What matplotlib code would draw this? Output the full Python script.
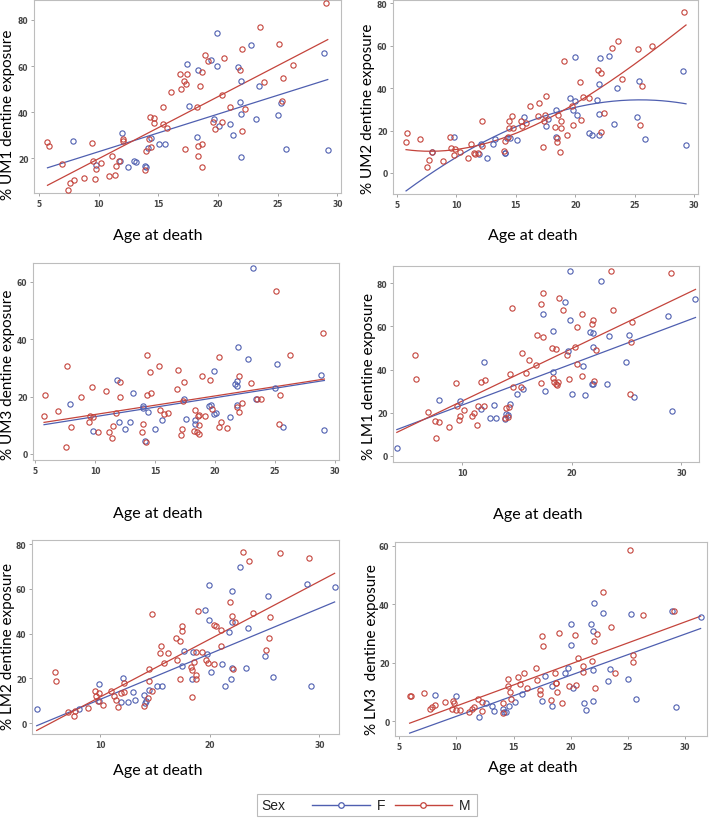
import numpy as np
import matplotlib
matplotlib.use("Agg")
from matplotlib import pyplot as plt
from matplotlib.lines import Line2D
from matplotlib.patches import Rectangle

# ---- data (age at death, % dentine exposure) ----
um1_f_age = [7.87, 9.77, 11.98, 11.81, 12.48, 12.95, 13.12, 13.93, 13.96, 14.12,
             14.37, 15.04, 15.57, 17.39, 17.56, 18.25, 18.36, 19.43, 19.68, 19.90,
             19.93, 20.10, 21.04, 21.27, 21.69, 21.88, 21.91, 21.91, 21.96, 22.75,
             23.19, 23.41, 25.01, 25.26, 25.70, 28.88, 29.19]
um1_f_val = [27.4, 17.3, 31.1, 18.8, 16.4, 18.8, 18.3, 16.7, 16.4, 24.5,
             28.8, 26.3, 26.1, 60.8, 42.5, 29.4, 58.1, 62.4, 37.2, 74.5,
             60.0, 34.1, 34.7, 30.0, 59.5, 44.4, 53.5, 20.4, 39.2, 69.1,
             37.2, 51.3, 38.9, 44.1, 24.2, 65.6, 23.8]
um1_m_age = [5.73, 5.84, 6.93, 7.48, 7.62, 7.93, 8.82, 9.44, 9.52, 9.69,
             9.80, 10.19, 10.86, 11.17, 11.36, 11.47, 11.72, 12.06, 12.09, 13.90,
             13.98, 14.24, 14.37, 14.35, 14.63, 14.63, 15.38, 15.44, 15.74, 16.08,
             16.80, 16.89, 17.19, 17.22, 17.36, 17.39, 18.23, 18.34, 18.36, 18.53,
             18.67, 18.64, 18.70, 18.92, 19.20, 19.62, 19.76, 20.32, 20.35, 20.54,
             21.02, 21.82, 22.02, 22.02, 22.24, 23.50, 23.86, 25.14, 25.40, 25.48,
             26.29, 29.05]
um1_m_val = [27.2, 25.5, 17.5, 6.4, 9.2, 10.8, 11.5, 26.5, 18.8, 11.1,
             15.4, 17.8, 12.4, 21.0, 12.9, 16.8, 18.8, 28.2, 27.5, 15.0,
             23.0, 28.2, 24.9, 37.9, 37.3, 35.4, 34.7, 42.4, 33.1, 48.7,
             56.7, 49.9, 53.3, 23.9, 52.3, 56.7, 42.1, 25.2, 21.2, 51.4,
             57.4, 16.4, 26.1, 64.7, 62.3, 35.6, 32.7, 47.3, 35.9, 63.4,
             42.2, 58.2, 67.5, 31.7, 41.6, 77.1, 53.2, 69.4, 44.8, 54.8,
             60.4, 87.1]

um2_f_age = [7.97, 9.82, 11.92, 12.09, 12.57, 13.04, 13.21, 14.05, 14.08, 14.25,
             14.47, 15.12, 15.68, 17.50, 17.70, 18.42, 18.40, 19.55, 19.80, 20.02,
             20.02, 20.19, 21.20, 21.40, 21.82, 22.01, 22.01, 22.01, 22.07, 22.85,
             23.30, 23.55, 25.18, 25.38, 25.88, 29.07, 29.33]
um2_f_val = [10.0, 16.9, 8.8, 13.8, 7.2, 13.8, 16.0, 9.3, 9.3, 16.6,
             16.5, 15.5, 26.2, 22.0, 25.6, 29.6, 17.1, 35.1, 29.5, 54.6,
             33.9, 27.3, 18.8, 18.0, 34.4, 42.0, 27.8, 17.9, 54.1, 55.2,
             23.2, 40.0, 26.4, 43.5, 16.2, 48.2, 13.0]
um2_m_age = [5.76, 5.87, 6.96, 7.55, 7.69, 7.97, 8.87, 9.48, 9.57, 9.76,
             9.88, 10.27, 10.94, 11.22, 11.45, 11.56, 11.81, 12.12, 12.15, 13.97,
             14.05, 14.33, 14.39, 14.42, 14.73, 14.70, 15.43, 15.54, 15.87, 16.18,
             16.88, 16.99, 17.33, 17.36, 17.47, 17.53, 18.34, 18.45, 18.48, 18.59,
             18.76, 18.79, 18.79, 19.04, 19.27, 19.71, 19.85, 20.44, 20.47, 20.64,
             21.14, 21.96, 22.15, 22.15, 22.40, 23.11, 23.61, 23.97, 25.29, 25.49,
             25.63, 26.44, 29.19]
um2_m_val = [14.4, 18.8, 15.8, 3.0, 6.3, 9.7, 5.5, 16.9, 11.6, 8.6,
             11.5, 9.9, 7.2, 13.8, 9.6, 9.1, 9.6, 24.3, 12.7, 10.2,
             15.1, 17.1, 21.2, 24.5, 21.2, 27.0, 24.6, 22.3, 23.5, 31.7,
             26.8, 32.9, 12.4, 24.3, 27.5, 36.2, 21.5, 16.6, 14.7, 27.5,
             10.0, 21.2, 24.6, 52.7, 18.0, 31.5, 22.6, 43.1, 25.1, 35.8,
             35.1, 48.5, 47.1, 19.3, 28.1, 58.8, 62.4, 44.5, 58.4, 22.4,
             40.9, 59.6, 75.8]

um3_f_age = [7.89, 9.83, 11.83, 12.0, 12.5, 12.94, 13.14, 13.97, 14.0, 14.14,
             14.42, 15.03, 15.58, 17.39, 17.58, 18.31, 18.36, 19.47, 19.67, 19.92,
             19.89, 20.08, 21.25, 21.67, 21.86, 21.86, 21.86, 21.92, 22.72, 23.19,
             23.39, 24.97, 25.19, 25.67, 28.83, 29.11]
um3_f_val = [17.5, 8.0, 25.8, 11.0, 8.6, 11.0, 21.1, 16.6, 16.1, 4.6,
             14.5, 8.6, 12.0, 19.0, 12.2, 11.7, 10.3, 16.7, 17.1, 29.0,
             13.8, 14.4, 12.9, 24.4, 25.4, 23.6, 17.0, 37.4, 32.9, 64.6,
             19.3, 23.1, 31.2, 9.4, 27.6, 8.2]
um3_m_age = [5.75, 5.86, 6.94, 7.56, 7.69, 7.97, 8.86, 9.47, 9.58, 9.72,
             9.83, 10.22, 10.92, 11.17, 11.5, 11.42, 11.78, 12.06, 12.08, 13.94,
             14.0, 14.22, 14.33, 14.33, 14.61, 14.64, 15.36, 15.44, 15.75, 16.11,
             16.81, 16.92, 17.22, 17.19, 17.36, 17.39, 18.36, 18.28, 18.47, 18.56,
             18.67, 18.67, 18.67, 18.89, 19.17, 19.56, 19.75, 20.31, 20.31, 20.47,
             21.0, 21.81, 21.97, 21.97, 22.22, 23.0, 23.5, 23.81, 25.08, 25.33,
             25.44, 26.25, 28.97]
um3_m_val = [13.3, 20.6, 14.8, 2.3, 30.6, 9.4, 19.8, 11.0, 13.3, 23.2,
             13.0, 7.5, 22.0, 7.8, 9.8, 5.7, 14.1, 24.9, 19.9, 7.8,
             10.3, 4.3, 20.4, 34.3, 28.5, 21.4, 30.6, 15.3, 13.9, 14.1,
             22.6, 29.4, 8.7, 6.7, 18.3, 25.1, 15.4, 8.0, 7.5, 13.2,
             13.7, 10.1, 7.1, 27.2, 13.2, 25.7, 15.6, 33.9, 9.5, 11.1,
             8.9, 16.3, 27.3, 14.7, 17.8, 24.8, 19.1, 19.1, 56.6, 10.3,
             20.4, 34.4, 42.2]

lm1_f_age = [4.05, 7.93, 9.82, 11.74, 11.98, 12.5, 12.93, 13.08, 13.93, 13.99,
             14.18, 14.36, 15.03, 15.58, 17.38, 17.59, 18.29, 18.26, 19.42, 19.63,
             19.88, 19.85, 20.06, 21.01, 21.22, 21.68, 21.89, 21.86, 21.92, 21.92,
             22.68, 23.20, 23.41, 24.94, 25.18, 25.67, 28.81, 29.15, 31.28]
lm1_f_val = [3.8, 25.8, 25.5, 21.7, 43.5, 17.4, 23.4, 17.4, 16.9, 19.2,
             18.8, 24.0, 28.5, 30.8, 65.8, 30.2, 57.7, 38.9, 71.4, 48.6,
             85.8, 62.9, 28.6, 41.7, 28.3, 57.5, 50.5, 33.1, 56.9, 33.1,
             80.9, 33.4, 55.7, 43.5, 56.0, 27.1, 64.9, 20.8, 72.8]
lm1_m_age = [5.73, 5.82, 6.92, 7.5, 7.59, 7.93, 8.81, 9.45, 9.51, 9.70,
             9.82, 10.15, 10.88, 11.13, 11.34, 11.49, 11.74, 12.04, 12.10, 13.87,
             13.96, 14.21, 14.30, 14.36, 14.57, 14.60, 15.34, 15.43, 15.79, 16.07,
             16.77, 16.86, 17.16, 17.16, 17.35, 17.38, 18.20, 18.29, 18.41, 18.60,
             18.60, 18.66, 18.72, 18.87, 19.18, 19.57, 19.73, 20.30, 20.46, 20.49,
             20.95, 20.95, 21.83, 21.95, 22.01, 22.23, 23.54, 23.78, 25.34, 25.37,
             25.46, 29.05]
lm1_m_val = [46.6, 35.4, 20.3, 16.3, 8.2, 15.7, 13.2, 33.8, 22.9, 16.8,
             18.6, 21.1, 18.6, 19.8, 14.5, 22.9, 34.0, 23.2, 35.1, 17.5,
             22.0, 18.0, 22.6, 37.8, 68.3, 31.8, 31.7, 47.7, 38.2, 44.6,
             42.3, 55.8, 33.7, 70.3, 55.2, 75.5, 50.0, 36.2, 34.2, 49.4,
             33.4, 32.9, 34.2, 73.1, 67.5, 46.5, 35.5, 50.6, 42.5, 59.8,
             65.8, 37.1, 61.2, 62.9, 34.9, 48.8, 85.4, 67.5, 28.5, 52.6,
             62.2, 84.8]

lm2_f_age = [4.22, 8.05, 9.91, 9.88, 11.88, 12.13, 12.58, 13.04, 13.19, 14.04,
             14.10, 14.23, 14.50, 15.17, 15.68, 17.48, 17.69, 18.39, 18.45, 19.57,
             19.76, 19.94, 19.94, 20.15, 21.12, 21.40, 21.76, 21.95, 22.01, 22.01,
             22.01, 22.80, 23.28, 23.50, 25.05, 25.29, 25.74, 28.91, 29.21, 31.40]
lm2_f_val = [6.1, 6.3, 17.3, 9.8, 9.4, 20.0, 9.2, 14.0, 10.4, 12.7,
             9.1, 10.0, 14.8, 16.7, 16.7, 25.6, 32.3, 19.8, 31.7, 50.5,
             30.8, 61.5, 46.1, 22.8, 26.2, 16.7, 40.8, 19.5, 59.2, 45.2,
             24.6, 69.7, 24.6, 42.3, 30.1, 56.9, 20.4, 62.3, 16.5, 61.0]
lm2_m_age = [5.87, 5.99, 7.05, 7.63, 7.75, 8.94, 9.54, 9.64, 9.79, 9.91,
             10.27, 11.0, 11.28, 11.46, 11.61, 11.88, 12.16, 12.19, 14.01, 14.35,
             14.44, 14.44, 14.71, 14.74, 15.47, 15.53, 15.87, 16.20, 16.90, 16.99,
             17.29, 17.29, 17.48, 17.48, 18.33, 18.42, 18.42, 18.60, 18.72, 18.72,
             18.78, 18.97, 19.27, 19.70, 19.82, 20.36, 20.43, 20.58, 21.03, 21.06,
             21.88, 22.07, 22.10, 22.31, 23.04, 23.59, 23.92, 25.17, 25.44, 25.53,
             26.38, 29.09]
lm2_m_val = [22.9, 18.6, 4.9, 3.3, 5.4, 6.6, 14.3, 12.1, 9.8, 13.6,
             8.2, 14.5, 11.9, 10.1, 7.3, 13.3, 13.9, 17.9, 7.7, 11.2,
             24.3, 18.9, 48.9, 14.5, 31.1, 34.4, 27.0, 31.4, 37.9, 28.3,
             19.7, 36.5, 41.1, 43.5, 25.2, 23.8, 11.6, 27.3, 31.7, 19.8,
             21.5, 50.2, 31.7, 28.0, 27.0, 43.8, 26.5, 43.4, 41.6, 34.6,
             53.9, 47.7, 24.0, 45.0, 76.6, 72.6, 49.2, 32.8, 38.0, 47.4,
             76.0, 73.9]

lm3_f_age = [8.12, 9.96, 12.03, 12.64, 13.11, 13.28, 14.10, 14.16, 14.33, 14.57,
             15.15, 15.74, 17.49, 17.75, 18.39, 18.36, 19.53, 19.79, 19.99, 19.99,
             20.17, 21.13, 21.37, 21.74, 21.95, 21.98, 21.92, 22.01, 22.80, 23.26,
             23.47, 25.04, 25.25, 25.71, 28.86, 29.21, 31.34]
lm3_f_val = [9.0, 8.6, 1.3, 6.2, 5.1, 3.4, 4.1, 3.2, 3.2, 5.1,
             6.6, 9.2, 6.8, 15.3, 12.0, 5.2, 16.4, 18.1, 33.1, 26.2,
             11.2, 6.3, 3.8, 33.4, 30.8, 17.5, 7.0, 40.4, 37.0, 13.7,
             17.8, 14.5, 36.6, 7.5, 37.8, 4.8, 35.5]
lm3_m_age = [5.93, 6.02, 7.16, 7.74, 7.89, 8.15, 9.0, 9.70, 9.67, 9.84,
             9.96, 10.34, 11.07, 11.39, 11.53, 11.91, 12.21, 12.21, 14.04, 14.10,
             14.51, 14.51, 14.71, 14.77, 15.41, 15.59, 15.91, 16.20, 16.93, 17.02,
             17.31, 17.31, 17.51, 17.54, 18.30, 18.62, 18.74, 18.74, 18.77, 18.97,
             19.26, 19.85, 20.40, 20.43, 20.61, 21.04, 21.10, 21.89, 22.04, 22.09,
             22.33, 22.82, 23.55, 23.90, 25.19, 25.45, 25.48, 26.35, 29.04]
lm3_m_val = [8.6, 8.7, 9.6, 4.0, 4.8, 5.4, 6.6, 6.8, 4.3, 6.3,
             3.9, 3.9, 3.0, 4.1, 4.7, 7.4, 6.6, 3.5, 2.7, 6.2,
             14.5, 11.9, 9.9, 7.5, 15.2, 12.7, 16.3, 11.2, 18.3, 13.9,
             10.5, 9.4, 29.0, 25.7, 7.2, 16.3, 13.1, 13.2, 10.0, 30.3,
             6.3, 11.9, 29.4, 12.3, 21.7, 18.8, 16.9, 20.5, 27.3, 11.3,
             29.8, 44.3, 32.2, 16.3, 58.6, 20.3, 22.7, 36.3, 37.8]

# fitted curves, polynomial coefficients in (age - AGE_REF), highest power first
AGE_REF = 17.5
um1_fit_f = [1.63, 35.1]
um1_fit_m = [2.69, 40.0]
um2_fit_f = [-0.0006, -0.108, 1.834, 27.0]
um2_fit_m = [-0.0024, 0.110, 2.815, 25.0]
um3_fit_f = [0.659, 17.94]
um3_fit_m = [0.646, 18.59]
lm1_fit_f = [1.905, 37.82]
lm1_fit_m = [2.43, 43.59]
lm2_fit_f = [2.035, 25.82]
lm2_fit_m = [2.583, 31.0]
lm3_fit_f = [1.409, 12.19]
lm3_fit_m = [1.441, 15.96]

ylabels = ["% UM1 dentine exposure", "% UM2 dentine exposure", "% UM3 dentine exposure",
           "% LM1 dentine exposure", "% LM2 dentine exposure", "% LM3  dentine exposure"]

BLUE = '#4f5fb0'
RED = '#c4443c'
W, H = 709, 820


def px(x, y):
    # pixel position (from top left) -> figure fraction
    return x / W, 1 - y / H


def draw_panel(rect, fem, mal, fit_f, fit_m, xlim, ylim, xticks, yticks):
    left, top, right, bottom = rect
    ax = fig.add_axes([left / W, 1 - bottom / H, (right - left) / W, (bottom - top) / H])
    ages = np.array(fem[0] + mal[0])
    xs = np.linspace(ages.min(), ages.max(), 200)
    ax.plot(xs, np.polyval(fit_f, xs - AGE_REF), color=BLUE, lw=0.9, zorder=2)
    ax.plot(xs, np.polyval(fit_m, xs - AGE_REF), color=RED, lw=0.9, zorder=2)
    ax.plot(fem[0], fem[1], 'o', mfc='none', mec=BLUE, ms=3.8, mew=0.8, zorder=3)
    ax.plot(mal[0], mal[1], 'o', mfc='none', mec=RED, ms=3.8, mew=0.8, zorder=3)
    ax.set_xlim(*xlim)
    ax.set_ylim(*ylim)
    ax.set_xticks(xticks)
    ax.set_yticks(yticks)
    ax.tick_params(labelsize=5.5, labelcolor='#444444', color='#999999',
                   length=2.5, width=0.6, pad=1.5)
    for lab in ax.get_xticklabels() + ax.get_yticklabels():
        lab.set_family('Liberation Sans Narrow')
        lab.set_weight('bold')
    for s in ax.spines.values():
        s.set_color('#bdbdbd')
        s.set_linewidth(0.8)
    return ax


fig = plt.figure(figsize=(W / 100, H / 100), dpi=100)

draw_panel((34, 1, 341, 194), (um1_f_age, um1_f_val), (um1_m_age, um1_m_val),
           um1_fit_f, um1_fit_m, (4.6, 30.3), (5.0, 88.6), range(5, 31, 5), range(20, 81, 20))
draw_panel((393, 1, 698, 195), (um2_f_age, um2_f_val), (um2_m_age, um2_m_val),
           um2_fit_f, um2_fit_m, (4.66, 30.34), (-9.9, 81.5), range(5, 31, 5), range(0, 81, 20))
draw_panel((33, 264, 339, 461), (um3_f_age, um3_f_val), (um3_m_age, um3_m_val),
           um3_fit_f, um3_fit_m, (4.83, 30.33), (-2.1, 66.5), range(5, 31, 5), range(0, 61, 20))
draw_panel((393, 267, 699, 463), (lm1_f_age, lm1_f_val), (lm1_m_age, lm1_m_val),
           lm1_fit_f, lm1_fit_m, (3.7, 31.6), (-2.8, 87.9), [10, 20, 30], range(0, 81, 20))
draw_panel((32, 541, 339, 735), (lm2_f_age, lm2_f_val), (lm2_m_age, lm2_m_val),
           lm2_fit_f, lm2_fit_m, (3.79, 31.8), (-4.9, 81.8), [10, 20, 30], range(0, 81, 20))
draw_panel((395, 543, 707, 737), (lm3_f_age, lm3_f_val), (lm3_m_age, lm3_m_val),
           lm3_fit_f, lm3_fit_m, (4.65, 31.9), (-5.1, 61.3), range(5, 31, 5), range(0, 61, 20))

# axis titles, placed like the pasted-together original
ylab_pos = [(8, 115), (368, 109), (8, 375), (369, 377), (8, 647), (372, 650)]
xlab_pos = [(158, 236), (533, 236), (158, 514), (538, 515), (158, 771), (533, 768)]
for lab, (x, y) in zip(ylabels, ylab_pos):
    fig.text(*px(x, y), lab, rotation=90, ha='center', va='center',
             family='Lato', fontsize=11, color='black')
for x, y in xlab_pos:
    fig.text(*px(x, y), "Age at death", ha='center', va='center',
             family='Lato', fontsize=11.5, color='black')

# legend box at the bottom
x0, y0 = px(257, 817)
x1, y1 = px(477, 795)
fig.add_artist(Rectangle((x0, y0), x1 - x0, y1 - y0, transform=fig.transFigure,
                         fill=False, edgecolor='#bbbbbb', lw=0.8))
ly = px(0, 806)[1]
fig.text(px(261, 0)[0], ly, "Sex", ha='left', va='center',
         family='Liberation Sans', fontsize=10, color='#222222')
for (a, b, c), col, lab in [((312, 341, 370), BLUE, "F"), ((395, 423, 452), RED, "M")]:
    fig.add_artist(Line2D([px(a, 0)[0], px(c, 0)[0]], [ly, ly], transform=fig.transFigure,
                          color=col, lw=1.0))
    fig.add_artist(Line2D([px(b, 0)[0]], [ly], transform=fig.transFigure, marker='o',
                          mfc='white', mec=col, ms=4, mew=0.9, lw=0))
    fig.text(px(c + 7, 0)[0], ly, lab, ha='left', va='center',
             family='Liberation Sans', fontsize=10, color='#222222')

fig.savefig("out.png", dpi=100)
